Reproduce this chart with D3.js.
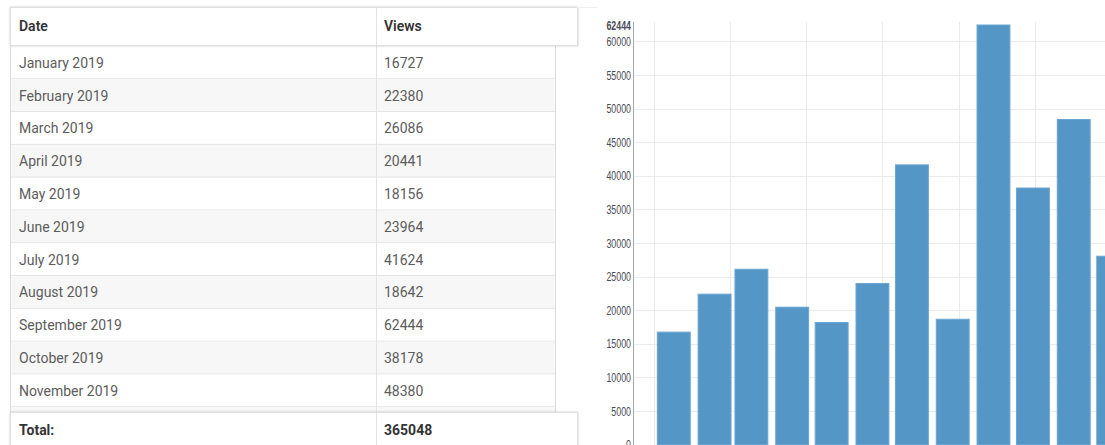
<!DOCTYPE html>
<html>
<head>
<meta charset="utf-8">
<script src="https://cdn.jsdelivr.net/npm/d3@7"></script>
<style>
  body { margin: 0; background: #fff; }
  svg { display: block; }
</style>
</head>
<body>
<svg id="chart"></svg>
<script>
// data
const months = ["January 2019", "February 2019", "March 2019", "April 2019", "May 2019", "June 2019",
  "July 2019", "August 2019", "September 2019", "October 2019", "November 2019", "December 2019"];
const views = [16727, 22380, 26086, 20441, 18156, 23964, 41624, 18642, 62444, 38178, 48380, 28026];
const columns = ["Date", "Views"];
const totalLabel = "Total:";

const W = 1105, H = 445;
const svg = d3.select("#chart").attr("width", W).attr("height", H);

// ---------- table on the left ----------
const tbl = {left: 10, right: 577, bodyRight: 555, split: 376, headTop: 7, headBottom: 45, totalTop: 412};
const rowY = d3.scaleLinear().domain([0, 1]).range([46.5, 79.3]);
const rowH = rowY(1) - rowY(0);
const font = "Roboto, 'Noto Sans', sans-serif";

svg.append("clipPath").attr("id", "bodyclip")
  .append("rect").attr("x", 0).attr("y", tbl.headBottom).attr("width", W).attr("height", tbl.totalTop - tbl.headBottom);

const body = svg.append("g").attr("clip-path", "url(#bodyclip)");
const rows = body.selectAll("g.row")
  .data(months.map((m, i) => ({m, v: views[i], i})))
  .join("g").attr("class", "row")
  .attr("transform", d => `translate(0,${rowY(d.i)})`);

rows.append("rect")
  .attr("x", tbl.left).attr("width", tbl.bodyRight - tbl.left).attr("height", rowH)
  .attr("fill", d => d.i % 2 ? "#f7f7f7" : "#fff");
rows.append("line")
  .attr("x1", tbl.left).attr("x2", tbl.bodyRight).attr("y1", rowH - 0.5).attr("y2", rowH - 0.5)
  .attr("stroke", "#e3e3e3");

// text only for rows that are scrolled into view (the last one sits under the total row)
const shown = rows.filter(d => rowY(d.i) + rowH / 2 < tbl.totalTop);
shown.append("text").attr("x", tbl.left + 9).attr("y", rowH / 2).attr("dy", "0.35em")
  .attr("font-family", font).attr("font-size", 14).attr("fill", "#5c5c5c").text(d => d.m);
shown.append("text").attr("x", tbl.split + 8).attr("y", rowH / 2).attr("dy", "0.35em")
  .attr("font-family", font).attr("font-size", 14).attr("fill", "#5c5c5c").text(d => d.v);

// body borders
body.append("line").attr("x1", tbl.left + 0.5).attr("x2", tbl.left + 0.5).attr("y1", tbl.headBottom).attr("y2", H)
  .attr("stroke", "#dcdcdc");
body.append("line").attr("x1", tbl.split + 0.5).attr("x2", tbl.split + 0.5).attr("y1", tbl.headBottom).attr("y2", H)
  .attr("stroke", "#e3e3e3");
body.append("line").attr("x1", tbl.bodyRight + 0.5).attr("x2", tbl.bodyRight + 0.5).attr("y1", tbl.headBottom).attr("y2", H)
  .attr("stroke", "#dcdcdc");

// header and total boxes
const shadow = svg.append("filter").attr("id", "sh").attr("x", "-5%").attr("y", "-50%").attr("width", "110%").attr("height", "200%");
shadow.append("feDropShadow").attr("dx", 0).attr("dy", 0).attr("stdDeviation", 1.2).attr("flood-color", "#000").attr("flood-opacity", 0.22);

function box(y0, y1, labels, weight) {
  const g = svg.append("g");
  g.append("rect").attr("x", tbl.left + 0.5).attr("y", y0 + 0.5)
    .attr("width", tbl.right - tbl.left).attr("height", y1 - y0)
    .attr("fill", "#fff").attr("stroke", "#e0e0e0").attr("filter", "url(#sh)");
  g.append("line").attr("x1", tbl.split + 0.5).attr("x2", tbl.split + 0.5).attr("y1", y0).attr("y2", y1)
    .attr("stroke", "#e3e3e3");
  g.selectAll("text").data(labels).join("text")
    .attr("x", (d, i) => i ? tbl.split + 8 : tbl.left + 9)
    .attr("y", (y0 + y1) / 2).attr("dy", "0.35em")
    .attr("font-family", font).attr("font-size", 14).attr("font-weight", weight)
    .attr("fill", "#333").text(d => d);
}
box(tbl.headTop, tbl.headBottom, columns, 600);
box(tbl.totalTop, H + 4, [totalLabel, d3.sum(views)], 700);

// faint continuation of the header top border
svg.append("line").attr("x1", tbl.right).attr("x2", 597).attr("y1", tbl.headTop + 0.5).attr("y2", tbl.headTop + 0.5)
  .attr("stroke", "#eee");

// ---------- bar chart on the right ----------
const parse = d3.utcParse("%B %Y");
const dates = months.map(parse);

const x = d3.scaleUtc()
  .domain([Date.UTC(2018, 11, 1), Date.UTC(2020, 0, 1)])
  .range([633, 1154]);
const y = d3.scaleLinear()
  .domain([0, d3.max(views)])
  .range([444.5, 25]);

const plot = svg.append("g");
const plotTop = y.range()[1];

// vertical grid every 5e9 ms, horizontal grid on the y ticks
const xGrid = d3.range(Math.ceil(+x.domain()[0] / 5e9) * 5e9, +x.domain()[1], 5e9);
plot.selectAll("line.vg").data(xGrid).join("line").attr("class", "vg")
  .attr("x1", d => Math.round(x(d)) + 0.5).attr("x2", d => Math.round(x(d)) + 0.5)
  .attr("y1", plotTop - 3).attr("y2", H)
  .attr("stroke", "#ebebeb");
const yTicks = y.ticks(12);
plot.selectAll("line.hg").data(yTicks).join("line").attr("class", "hg")
  .attr("x1", x.range()[0]).attr("x2", W)
  .attr("y1", d => Math.round(y(d)) + 0.5).attr("y2", d => Math.round(y(d)) + 0.5)
  .attr("stroke", "#ebebeb");

// bars, centred on the first of each month
const barMs = 25 * 864e5;
plot.selectAll("rect.bar").data(views).join("rect").attr("class", "bar")
  .attr("x", (d, i) => x(+dates[i] - barMs / 2))
  .attr("width", (d, i) => x(+dates[i] + barMs / 2) - x(+dates[i] - barMs / 2))
  .attr("y", d => y(d))
  .attr("height", d => y(0) - y(d))
  .attr("fill", "#5496c6")
  .attr("stroke", "#6aa6d1").attr("stroke-width", 1);

// y axis
const yAxis = plot.append("g")
  .attr("transform", `translate(${x.range()[0]},0)`)
  .call(d3.axisLeft(y).tickValues(yTicks.concat([d3.max(views)]))
    .tickFormat(d3.format("d")).tickSize(0).tickPadding(0));
yAxis.select(".domain").attr("stroke", "#a8a8a8").attr("d", `M0.5,${plotTop - 3}V${H}`);
yAxis.selectAll("text")
  .attr("font-family", "'Liberation Sans', Arial, sans-serif")
  .attr("font-size", 13)
  .attr("fill", "#4b4b55")
  .attr("x", -2 / 0.68)
  .attr("transform", "scale(0.68,1)")
  .attr("font-weight", d => d === d3.max(views) ? 700 : 400);
</script>
</body>
</html>
